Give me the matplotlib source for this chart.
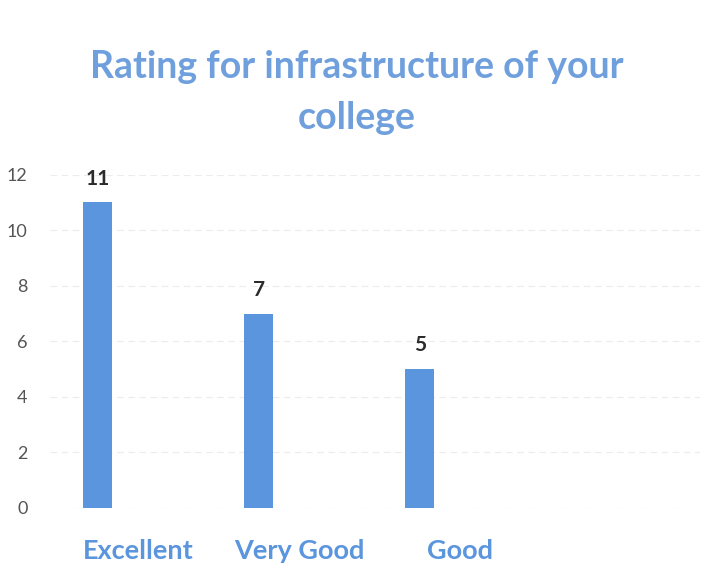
import matplotlib
matplotlib.use("Agg")
import matplotlib.pyplot as plt

# survey counts
categories = ["Excellent", "Very Good", "Good"]
counts = [11, 7, 5]
y_ticks = [0, 2, 4, 6, 8, 10, 12]

plt.rcParams['font.family'] = ['Lato', 'DejaVu Sans']

fig = plt.figure(figsize=(7.13, 5.66), dpi=100)
ax = fig.add_axes([0.070, 0.1025, 0.912, 0.589])

bar_color = '#5B95DE'
positions = list(range(len(categories)))
# the bars sit left of the category centre (single series of a clustered chart)
bar_pos = [p - 0.25 for p in positions]
ax.bar(bar_pos, counts, width=0.18, color=bar_color, zorder=2)

# value labels on top of each bar
for x, v in zip(bar_pos, counts):
    ax.text(x, v + 0.5, str(v), ha='center', va='bottom',
            fontsize=15, fontweight='bold', color='#2b2b2b')

ax.set_xlim(-0.547, 3.49)
ax.set_ylim(0, 12)
ax.set_yticks(y_ticks)
ax.set_yticklabels([str(t) for t in y_ticks], fontsize=13, color='#555555')
ax.set_xticks(positions)
ax.set_xticklabels(categories, fontsize=19.5, color='#5B95DE', fontweight='bold')
ax.tick_params(axis='both', length=0)
ax.tick_params(axis='y', pad=16)
ax.tick_params(axis='x', pad=22)

ax.yaxis.grid(True, color='#ececec', linewidth=0.8, linestyle=(0, (6, 4)), zorder=0)
for side in ax.spines.values():
    side.set_visible(False)

fig.text(0.50, 0.836, "Rating for infrastructure of your\ncollege", ha='center', va='center',
         fontsize=27, fontweight='bold', color='#6FA0DD', linespacing=1.6)

fig.savefig('out.png', dpi=100)
